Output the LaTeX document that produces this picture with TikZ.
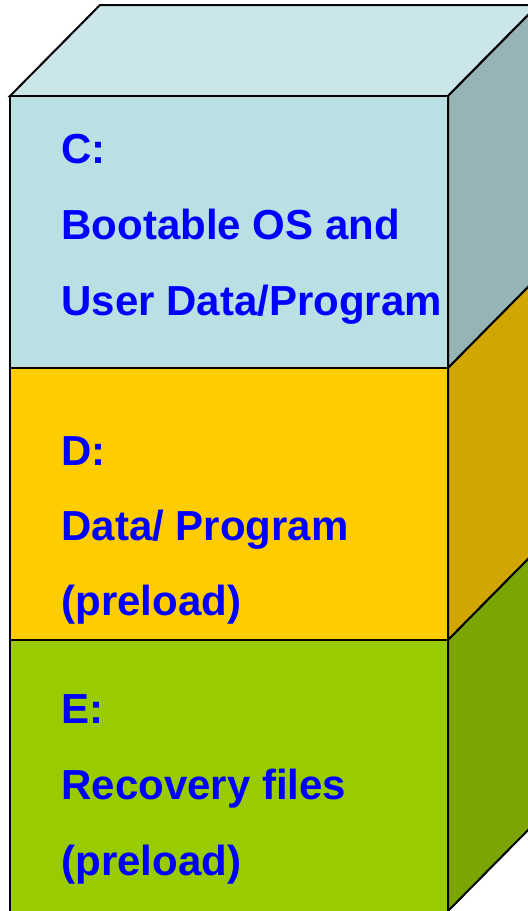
\documentclass[tikz,border=0pt]{standalone}
\usepackage{fontspec}
\setmainfont{Liberation Sans}
\definecolor{topface}{HTML}{CAE6E8}
\definecolor{cfront}{HTML}{B9E0E3}
\definecolor{cside}{HTML}{96B3B5}
\definecolor{dfront}{HTML}{FFCC00}
\definecolor{dside}{HTML}{D2A600}
\definecolor{efront}{HTML}{99CC00}
\definecolor{eside}{HTML}{7BA502}
\begin{document}
\begin{tikzpicture}[x=0.5pt,y=-0.5pt,
    face/.style={draw=black,line width=1pt,line join=miter},
    label/.style={anchor=base west,inner sep=0pt,text=blue,font=\fontsize{21}{25}\selectfont\bfseries}]
        \useasboundingbox (0,0) rectangle (528,911);
        \clip (0,0) rectangle (528,911);
        \draw[face,fill=topface] (10,96) -- (100,5) -- (538,5) -- (448,96) -- cycle;
        \draw[face,fill=cfront] (10,96) rectangle (448,368);
        \draw[face,fill=cside] (448,96) -- (538,5) -- (538,277) -- (448,368) -- cycle;
        \draw[face,fill=dfront] (10,368) rectangle (448,640);
        \draw[face,fill=dside] (448,368) -- (538,277) -- (538,549) -- (448,640) -- cycle;
        \draw[face,fill=efront] (10,640) rectangle (448,915);
        \draw[face,fill=eside] (448,640) -- (538,549) -- (538,820) -- (448,911) -- cycle;
        \node[label] (c1) at (61,163) {C:};
        \node[label] (c2) at (61,239) {Bootable OS and};
        \node[label] (c3) at (61,315) {User Data/Program};
        \node[label] (d1) at (61,465) {D:};
        \node[label] (d2) at (61,540) {Data/ Program};
        \node[label] (d3) at (61,615) {(preload)};
        \node[label] (e1) at (61,723) {E:};
        \node[label] (e2) at (61,799) {Recovery files};
        \node[label] (e3) at (61,875) {(preload)};
    \end{tikzpicture}
\end{document}
